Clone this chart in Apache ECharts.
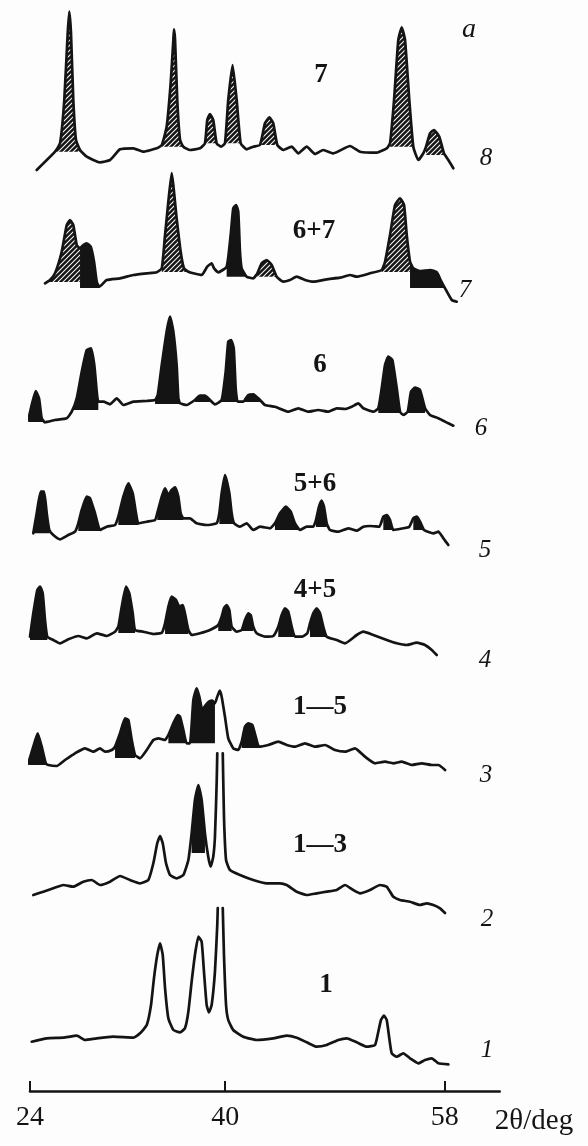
<!DOCTYPE html>
<html>
<head>
<meta charset="utf-8">
<script src="https://cdn.jsdelivr.net/npm/echarts@6/dist/echarts.min.js"></script>
<style>
  html, body { margin: 0; padding: 0; background: #fdfdfd; }
  #chart { width: 588px; height: 1146px; }
</style>
</head>
<body>
<div id="chart"></div>
<script>
// X-ray diffraction patterns, intensity (arb. units) versus 2θ (deg).
// Each curve is a list of [2θ, intensity]; null marks where a peak runs off scale.
const curveNames = ['1', '2', '3', '4', '5', '6', '7', '8'];
const phaseLabels = ['1', '1—3', '1—5', '4+5', '5+6', '6', '6+7', '7'];
const tickLabels = [24, 40, 58];

const trace1 = [[24.14,22.3],[25.37,25.7],[26.73,26.3],[27.83,28.3],[28.51,24],[29.47,25.7],[30.83,27.3],[32.47,26.3],[33.02,30.7],[33.57,39],[33.92,59],[34.16,85.7],[34.43,109],[34.66,120.7],[34.88,109],[35.07,75.7],[35.34,45.7],[35.75,34],[36.30,31.7],[36.70,35.7],[36.98,52.3],[37.25,82.3],[37.52,109],[37.80,127.3],[38.07,122.3],[38.26,92.3],[38.48,59],[38.67,51.7],[38.89,59],[39.16,92.3],[39.35,139],[39.39,156],null,[39.80,156],[39.90,109],[40.07,59],[40.25,44],[40.66,34],[41.48,27.3],[42.58,24],[43.94,25.7],[45.04,28.3],[45.86,26.3],[46.68,21.7],[47.50,17.3],[48.32,19],[49.27,24],[49.96,25.7],[50.78,21.7],[51.60,17.3],[52.28,19],[52.55,32.3],[52.77,44],[53.02,48.3],[53.24,44],[53.45,25.7],[53.65,10.7],[54.06,7.3],[54.60,10.7],[55.15,5.7],[55.83,0.7],[56.38,4],[56.93,5.7],[57.47,0.7],[58.29,-0.3]];

const trace2 = [[24.27,18],[25.09,21.3],[25.91,24.7],[26.73,28],[27.55,26.3],[28.37,31.3],[29.06,33],[29.74,28],[30.56,31.3],[31.38,37],[32.20,33],[33.02,29.7],[33.70,33],[34.11,49.7],[34.43,69.7],[34.66,77],[34.88,69.7],[35.15,49.7],[35.48,38],[36.02,34.7],[36.57,38],[36.98,53],[37.25,79.7],[37.52,113],[37.80,128],[38.07,113],[38.34,79.7],[38.61,56.3],[38.81,46.3],[39.02,56.3],[39.16,76.3],[39.30,129.7],[39.35,159.7],null,[39.80,159.7],[39.90,96.3],[40.07,53],[40.39,43],[41.21,38],[42.30,33],[43.40,29.7],[44.49,29.7],[45.04,28],[45.86,21.3],[46.68,18],[47.50,19.7],[48.32,21.3],[49.14,23],[49.82,28],[50.50,23],[51.05,19.7],[51.87,23],[52.69,28],[53.24,26.3],[53.78,16.3],[54.33,13],[55.15,11.3],[55.97,8],[56.52,9.7],[57.06,8],[57.61,4.7],[58.02,0]];

const trace3 = [[23.86,6.7],[24.27,23.3],[24.63,36.7],[24.96,23.3],[25.29,6.7],[25.50,5],[26.19,4],[26.87,10],[27.69,16.7],[28.51,21.7],[29.19,18.3],[29.74,21.7],[30.15,18.3],[30.70,20],[30.97,23.3],[31.38,36.7],[31.79,51.7],[32.06,50],[32.34,30],[32.61,15],[33.02,11.7],[33.57,20],[34.11,30],[34.52,31.7],[35.07,30],[35.34,35],[35.75,46.7],[36.11,55],[36.30,53.3],[36.57,40],[36.84,26.7],[37.11,26.7],[37.39,70],[37.66,81.7],[37.88,73.3],[38.12,60],[38.40,65],[38.67,68.3],[38.94,69.3],[39.16,66.7],[39.35,73.3],[39.55,79.3],[39.71,73.3],[39.98,53.3],[40.25,31.7],[40.66,21.7],[41.07,20],[41.35,28.3],[41.62,43.3],[41.89,46.7],[42.22,45],[42.50,33.3],[42.77,23.3],[43.53,25],[44.35,28.3],[45.04,25],[45.72,23.3],[46.54,26.7],[47.36,23.3],[48.18,25],[49.00,20],[49.82,18.3],[50.64,21.7],[51.46,13.3],[52.28,6.7],[53.10,8.3],[53.78,6.7],[54.47,8.3],[55.29,5],[56.11,6.7],[56.93,5],[57.47,5],[58.02,0]];

const trace4 = [[24.00,18.3],[24.27,41.7],[24.60,65],[24.82,68.3],[25.04,61.7],[25.23,35],[25.42,18.3],[25.91,15],[26.46,11.7],[27.14,15.7],[27.96,19],[28.65,16.7],[29.47,21.7],[30.29,19],[30.97,23.3],[31.24,28.3],[31.52,48.3],[31.87,68.3],[32.14,61.7],[32.42,41.7],[32.61,25],[33.29,23.3],[34.11,21],[34.80,22.3],[35.07,31.7],[35.34,48.3],[35.61,58.3],[35.97,55],[36.24,48.3],[36.52,50],[36.70,41.7],[36.98,25],[37.25,20],[37.93,21.7],[38.75,25],[39.43,30],[39.71,38.3],[39.90,46.7],[40.12,50],[40.34,45],[40.53,28.3],[40.94,23.3],[41.35,25],[41.62,35],[41.89,41.7],[42.09,40],[42.30,28.3],[42.58,21.7],[43.26,18.3],[43.94,19],[44.35,28.3],[44.63,40],[44.90,46.7],[45.17,43.3],[45.45,28.3],[45.72,18.3],[46.27,18.3],[46.73,21.7],[46.95,31.7],[47.22,41.7],[47.50,46.7],[47.77,41.7],[48.04,28.3],[48.32,18.3],[49.14,15],[49.82,11.7],[50.78,20],[51.32,23.3],[52.14,20],[53.24,15],[54.06,11.7],[54.88,10],[55.70,12.3],[56.38,10],[56.93,5],[57.34,0]];

const trace5 = [[24.27,11.7],[24.55,31.7],[24.88,53.3],[25.15,53.3],[25.37,31.7],[25.58,15],[25.91,10],[26.46,5.7],[27.14,10],[27.69,13.3],[27.96,21.7],[28.24,35],[28.65,48.3],[28.92,46.7],[29.33,31.7],[29.74,15],[30.29,18.3],[30.97,20],[31.24,28.3],[31.65,48.3],[32.06,61.7],[32.42,51.7],[32.69,31.7],[32.88,21.7],[33.57,23.3],[34.25,25],[34.43,31.7],[34.80,48.3],[35.07,56.7],[35.34,50],[35.61,55],[35.89,57.7],[36.16,48.3],[36.35,31.7],[36.57,26.7],[37.11,26.7],[37.66,21.7],[38.48,20],[39.30,21.7],[39.52,31.7],[39.71,51.7],[39.98,70],[40.34,51.7],[40.53,31.7],[40.72,21.7],[41.21,18.3],[41.76,21.7],[42.30,15],[42.85,18.3],[43.67,16.7],[44.08,21.7],[44.49,31.7],[44.98,38.3],[45.37,33.3],[45.72,21.7],[46.13,15],[46.68,18.3],[47.22,18.3],[47.44,25],[47.69,38.3],[47.91,44.3],[48.10,38.3],[48.32,21.7],[48.59,15],[49.27,13.3],[50.09,16.7],[50.78,14.3],[51.32,18.3],[51.87,19],[52.63,18.3],[52.96,28.3],[53.24,30],[53.51,25],[53.78,15],[54.60,16.7],[55.09,18.3],[55.42,26.7],[55.70,28.3],[55.97,23.3],[56.30,15],[57.06,11.7],[57.47,13.3],[57.88,6.7],[58.29,0]];

const trace6 = [[23.86,6],[24.14,21],[24.47,35],[24.74,27.7],[24.96,7.7],[25.23,3.7],[26.05,6],[27.01,7.7],[27.42,14.3],[27.83,27.7],[28.24,54.3],[28.65,76],[29.00,77.7],[29.27,61],[29.47,34.3],[29.60,24.3],[30.01,24.3],[30.56,21.7],[31.11,27.7],[31.65,21],[32.47,24.3],[33.57,25],[34.25,26],[34.47,31],[34.80,61],[35.20,94.3],[35.48,109.3],[35.75,94.3],[36.02,61],[36.16,27.7],[36.30,22.7],[36.84,21],[37.52,26],[37.93,30.3],[38.34,30.3],[38.75,26],[39.16,21.7],[39.71,26],[40.04,54.3],[40.25,84.3],[40.48,86],[40.70,77.7],[40.86,37.7],[41.02,24.3],[41.48,24.3],[41.89,31],[42.30,31.7],[42.85,26],[43.26,21],[44.08,19.3],[45.17,14.3],[45.99,17.7],[46.81,14.3],[47.63,16],[48.45,14.3],[49.14,17.7],[49.82,17],[50.37,19.3],[50.91,22.7],[51.32,17.7],[52.14,14.3],[52.55,17.7],[52.83,37.7],[53.10,61],[53.37,69.3],[53.70,66],[54.06,37.7],[54.33,14.3],[54.60,11],[54.96,14.3],[55.23,34.3],[55.56,38.3],[55.97,36],[56.38,17.7],[56.79,11],[57.47,7.7],[58.29,2.7],[58.70,0.3]];

const trace7 = [[25.23,18.7],[25.64,22],[26.05,28.7],[26.60,50.3],[27.01,77],[27.28,82],[27.55,77],[27.83,57],[28.10,53.7],[28.37,57],[28.65,58.7],[28.98,55.3],[29.25,40.3],[29.47,20.3],[29.68,15.3],[30.29,22],[31.38,23.7],[32.47,27],[33.57,28.7],[34.39,29.7],[34.80,33.7],[35.07,67],[35.34,100.3],[35.61,129],[36.02,83.7],[36.35,50.3],[36.62,33.7],[36.98,30.3],[37.39,28.7],[38.07,27],[38.53,35.3],[38.89,38.7],[39.08,33.7],[39.43,29.7],[40.12,35.3],[40.45,67],[40.66,93.7],[40.89,97],[41.07,90.3],[41.21,50.3],[41.35,33.7],[41.76,25.3],[42.30,23.7],[42.63,28.7],[42.99,38.7],[43.40,42],[43.81,37],[44.22,25.3],[44.76,20.3],[45.31,22],[45.86,25.3],[46.54,22],[47.22,20.3],[48.32,22.7],[49.41,24.3],[50.23,27],[50.78,25.3],[51.87,28.7],[52.83,32],[53.10,40.3],[53.51,67],[53.92,97],[54.33,103.7],[54.66,97],[54.88,67],[55.15,40.3],[55.42,33.7],[55.97,31],[56.79,32],[57.34,29.7],[57.66,22],[58.02,13.7],[58.57,2],[58.98,0.3]];

const trace8 = [[24.55,0],[26.05,18.3],[26.46,26.7],[26.81,70],[27.09,136.7],[27.22,158.3],[27.36,136.7],[27.55,70],[27.77,30],[28.10,20],[28.65,13.3],[29.74,7.7],[30.56,10],[31.38,20.7],[32.47,21.7],[33.29,18.3],[34.39,21.7],[34.80,25],[35.20,43.3],[35.53,86.7],[35.75,130],[35.80,140.7],[35.89,130],[36.07,70],[36.30,30],[36.57,23.3],[37.11,20],[37.93,21.7],[38.34,26.7],[38.53,50],[38.75,56],[39.02,50],[39.30,26.7],[39.66,23.3],[39.98,26.7],[40.25,70],[40.61,105],[40.94,70],[41.27,26.7],[41.76,20.7],[42.30,23.3],[42.85,25],[43.26,46.7],[43.62,52.7],[43.94,46.7],[44.27,25],[44.76,20],[45.45,23.3],[45.99,16.7],[46.68,23.3],[47.36,16],[48.04,20],[48.86,16.7],[50.23,24],[51.05,18.3],[52.42,17.3],[53.24,21.7],[53.51,26.7],[53.84,70],[54.19,130],[54.47,142.7],[54.74,130],[55.09,70],[55.42,23.3],[55.83,10],[56.24,16.7],[56.46,23.3],[56.79,36.7],[57.11,40],[57.55,33.3],[57.93,16.7],[58.29,10],[58.70,1.7]];

// Shaded reflections: [2θ from, 2θ to, intensity floor]
const hatch7 = [[25.64,28.10,20],[34.80,36.98,30],[42.63,44.22,25.3],[52.83,55.15,30]];
const hatch8 = [[26.05,28.10,18.3],[34.80,36.57,23.3],[38.34,39.30,26.7],[39.98,41.27,26.7],[42.85,44.27,25],[53.51,55.42,23.3],[56.46,57.93,15]];
const solid2 = [[37.25,38.34,60]];
const solid3 = [[23.86,25.50,5],[30.97,32.61,12],[35.34,36.84,26.7],[37.11,39.16,26.7],[41.35,42.77,22]];
const solid4 = [[24.00,25.42,15],[31.24,32.61,22],[35.07,36.98,21],[39.43,40.53,24],[41.35,42.30,24],[44.35,45.72,18],[46.95,48.32,18]];
const solid5 = [[24.27,25.58,11.7],[27.96,29.74,14],[31.24,32.88,20],[34.43,36.57,25],[39.52,40.72,21],[44.08,46.13,15],[47.44,48.32,18],[52.96,53.78,15],[55.42,56.30,15]];
const solid6 = [[23.86,25.23,4],[27.42,29.60,16],[34.25,36.30,22],[37.52,38.75,24],[39.71,41.02,24],[41.48,42.85,24],[52.55,54.33,13],[54.96,56.38,13]];
const solid7 = [[28.10,29.68,14],[40.12,41.76,25.3],[55.15,58.02,14]];

// ---- drawing ----
const INK = '#141414';
const SERIF = '"Liberation Serif", "DejaVu Serif", serif';
const curves = [trace1, trace2, trace3, trace4, trace5, trace6, trace7, trace8];
const hatched = [[], [], [], [], [], [], hatch7, hatch8];
const solid = [[], solid2, solid3, solid4, solid5, solid6, solid7, []];

// vertical offsets of the stacked curves: page y of each zero level
const zeroY = [1064, 913, 770, 655, 545, 426, 302, 170];
const PLOT = { left: 30, right: 88.3 };
const X_RANGE = { min: 24, max: 62.5 };

function hatchTile() {
  const n = 5;
  const c = document.createElement('canvas');
  c.width = n; c.height = n;
  const g = c.getContext('2d');
  g.fillStyle = INK;
  g.fillRect(0, 0, n, n);
  g.strokeStyle = '#f4f4f4';
  g.lineWidth = 1.1;
  g.beginPath();
  g.moveTo(0, n); g.lineTo(n, 0);
  g.moveTo(-1, 1); g.lineTo(1, -1);
  g.moveTo(n - 1, n + 1); g.lineTo(n + 1, n - 1);
  g.stroke();
  return c;
}
const hatchFill = { image: hatchTile(), repeat: 'repeat' };

function shade(i, ranges, fill) {
  return {
    type: 'custom',
    xAxisIndex: i, yAxisIndex: i,
    data: ranges,
    encode: { x: 0, y: 2 },
    silent: true,
    animation: false,
    z: 2,
    renderItem: function (params, api) {
      const r = ranges[params.dataIndex];
      const pts = curves[i]
        .filter(p => p && p[0] >= r[0] - 1e-6 && p[0] <= r[1] + 1e-6)
        .map(p => api.coord(p));
      pts.push(api.coord([r[1], r[2]]), api.coord([r[0], r[2]]));
      return { type: 'polygon', shape: { points: pts }, style: { fill: fill, stroke: null } };
    }
  };
}

const grids = [], xAxes = [], yAxes = [], series = [];
curves.forEach((c, i) => {
  grids.push({ left: PLOT.left, right: PLOT.right, top: zeroY[i] - 100, height: 100 });
  xAxes.push({ type: 'value', gridIndex: i, min: X_RANGE.min, max: X_RANGE.max, show: false });
  yAxes.push({ type: 'value', gridIndex: i, min: 0, max: 100, show: false });
  if (hatched[i].length) series.push(shade(i, hatched[i], hatchFill));
  if (solid[i].length) series.push(shade(i, solid[i], INK));
  series.push({
    name: curveNames[i],
    type: 'line',
    xAxisIndex: i, yAxisIndex: i,
    data: c.map((p, k, arr) => p ? p : [arr[k - 1][0], '-']),
    connectNulls: false,
    showSymbol: false, symbol: 'none',
    smooth: 0.15,
    clip: false,
    animation: false,
    z: 3,
    lineStyle: { color: INK, width: 2.7, join: 'round', cap: 'round' }
  });
});

// the 2θ scale sits in its own strip below the lowest curve
const axisIdx = curves.length;
grids.push({ left: PLOT.left, right: PLOT.right, top: 1041, height: 50 });
xAxes.push({
  type: 'value', gridIndex: axisIdx, min: X_RANGE.min, max: X_RANGE.max,
  axisLine: { show: true, lineStyle: { color: INK, width: 2.6 } },
  axisTick: { show: true, inside: true, length: 10, customValues: tickLabels, lineStyle: { color: INK, width: 2 } },
  axisLabel: { show: true, customValues: tickLabels, margin: 13, color: INK, fontFamily: SERIF, fontSize: 28 },
  splitLine: { show: false }
});
yAxes.push({ type: 'value', gridIndex: axisIdx, min: 0, max: 1, show: false });

// curve numbers at the right-hand ends, phase labels above the curves
const endPos = [[487, 1050], [487, 919], [486, 775], [485, 660], [485, 550], [481, 428], [465, 290], [486, 158]];
const phasePos = [[326, 985], [320, 845], [320, 707], [315, 590], [315, 484], [320, 365], [314, 231], [321, 75]];
const texts = [];
curveNames.forEach((t, i) => texts.push({
  type: 'text', x: endPos[i][0], y: endPos[i][1], silent: true,
  style: { text: t, fill: INK, font: 'italic 25px ' + SERIF, align: 'center', verticalAlign: 'middle' }
}));
phaseLabels.forEach((t, i) => texts.push({
  type: 'text', x: phasePos[i][0], y: phasePos[i][1], silent: true,
  style: { text: t, fill: INK, font: 'bold 27px ' + SERIF, align: 'center', verticalAlign: 'middle' }
}));
texts.push({
  type: 'text', x: 469, y: 30, silent: true,
  style: { text: 'a', fill: INK, font: 'italic 28px ' + SERIF, align: 'center', verticalAlign: 'middle' }
});
texts.push({
  type: 'text', x: 534, y: 1121, silent: true,
  style: { text: '2θ/deg', fill: INK, font: '29px ' + SERIF, align: 'center', verticalAlign: 'middle' }
});

const chart = echarts.init(document.getElementById('chart'), null, { renderer: 'canvas' });
chart.setOption({
  backgroundColor: '#fdfdfd',
  animation: false,
  grid: grids,
  xAxis: xAxes,
  yAxis: yAxes,
  series: series,
  graphic: texts
});
</script>
</body>
</html>
